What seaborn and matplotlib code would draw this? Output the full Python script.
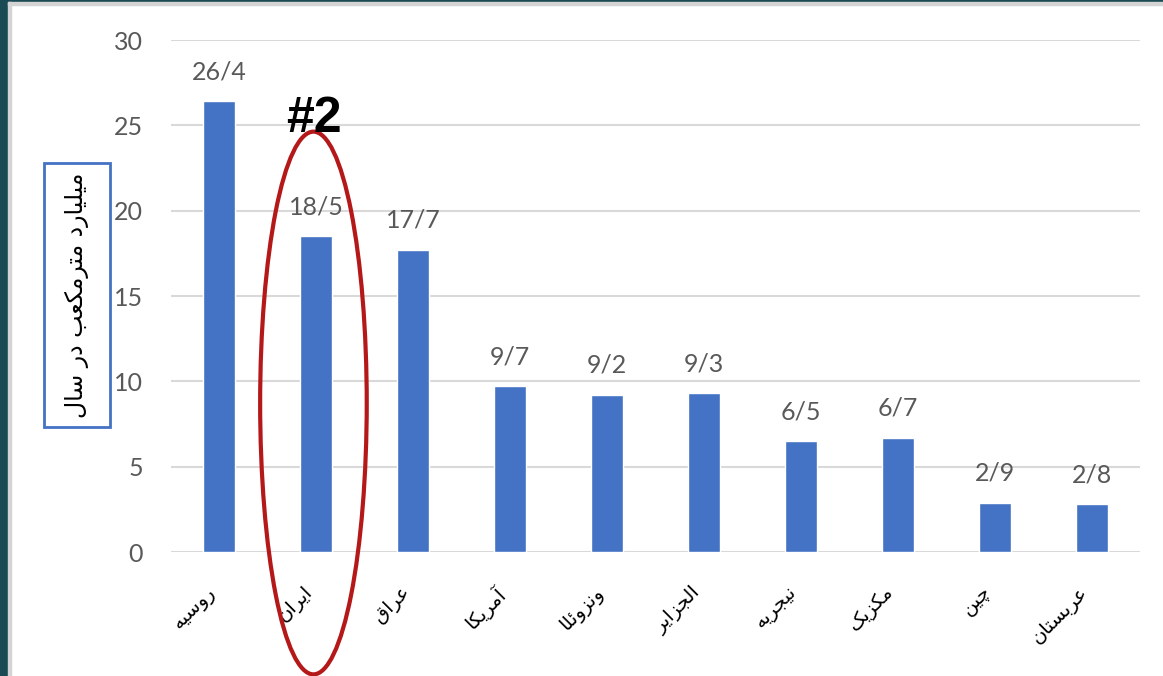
import numpy as np
import pandas as pd
import seaborn as sns
import matplotlib.pyplot as plt
from matplotlib.patches import Ellipse, Rectangle

countries = ['روسیه', 'ایران', 'عراق', 'آمریکا', 'ونزوئلا', 'الجزایر', 'نیجریه', 'مکزیک', 'چین', 'عربستان']
values = [26.4, 18.5, 17.7, 9.7, 9.2, 9.3, 6.5, 6.7, 2.9, 2.8]
value_labels = ['26/4', '18/5', '17/7', '9/7', '9/2', '9/3', '6/5', '6/7', '2/9', '2/8']
y_ticks = [0, 5, 10, 15, 20, 25, 30]
y_title = 'میلیارد مترمکعب در سال'
highlight = '#2'

# matplotlib has no arabic shaping, so map letters to presentation forms by hand
# (isolated, final, initial, medial); two entries = joins only to the right
FORMS = {
    'ا': (0xFE8D, 0xFE8E), 'آ': (0xFE81, 0xFE82), 'د': (0xFEA9, 0xFEAA),
    'ر': (0xFEAD, 0xFEAE), 'ز': (0xFEAF, 0xFEB0), 'و': (0xFEED, 0xFEEE),
    'ب': (0xFE8F, 0xFE90, 0xFE91, 0xFE92), 'ت': (0xFE95, 0xFE96, 0xFE97, 0xFE98),
    'ج': (0xFE9D, 0xFE9E, 0xFE9F, 0xFEA0), 'چ': (0xFB7A, 0xFB7B, 0xFB7C, 0xFB7D),
    'س': (0xFEB1, 0xFEB2, 0xFEB3, 0xFEB4), 'ع': (0xFEC9, 0xFECA, 0xFECB, 0xFECC),
    'ق': (0xFED5, 0xFED6, 0xFED7, 0xFED8), 'ک': (0xFB8E, 0xFB8F, 0xFB90, 0xFB91),
    'ل': (0xFEDD, 0xFEDE, 0xFEDF, 0xFEE0), 'م': (0xFEE1, 0xFEE2, 0xFEE3, 0xFEE4),
    'ن': (0xFEE5, 0xFEE6, 0xFEE7, 0xFEE8), 'ه': (0xFEE9, 0xFEEA, 0xFEEB, 0xFEEC),
    'ی': (0xFBFC, 0xFBFD, 0xFBFE, 0xFBFF), 'ئ': (0xFE89, 0xFE8A, 0xFE8B, 0xFE8C),
}


def shape(word):
    out = []
    chars = list(word)
    for i, c in enumerate(chars):
        f = FORMS.get(c)
        if f is None:
            out.append(c)
            continue
        prev = chars[i - 1] if i > 0 else None
        nxt = chars[i + 1] if i + 1 < len(chars) else None
        join_prev = prev in FORMS and len(FORMS[prev]) == 4
        join_next = len(f) == 4 and nxt in FORMS
        if join_prev and join_next:
            code = f[3]
        elif join_prev:
            code = f[1]
        elif join_next:
            code = f[2]
        else:
            code = f[0]
        out.append(chr(code))
    # reverse for right-to-left display
    return ''.join(out)[::-1]


df = pd.DataFrame({'country': [shape(c) for c in countries], 'value': values})

sns.set_theme(style='white')
plt.rcParams['font.family'] = ['Lato', 'DejaVu Sans']

fig = plt.figure(figsize=(11.63, 6.76), dpi=100)
fig.patch.set_facecolor('white')

# dark frame of the slide and the light edge of the chart box
fig.add_artist(Rectangle((0, 0), 8 / 1163, 1, transform=fig.transFigure, color='#1B4A55', zorder=0))
fig.add_artist(Rectangle((0, 1 - 2 / 676), 1, 2 / 676, transform=fig.transFigure, color='#1B4A55', zorder=0))
fig.add_artist(Rectangle((8 / 1163, 0), 3 / 1163, 1 - 2 / 676, transform=fig.transFigure, color='#D4D4D4', zorder=0))
fig.add_artist(Rectangle((8 / 1163, 1 - 5 / 676), 1, 3 / 676, transform=fig.transFigure, color='#D4D4D4', zorder=0))

ax = fig.add_axes([171 / 1163, 1 - 552 / 676, 969 / 1163, 512 / 676])
ax.set_facecolor('none')

sns.barplot(data=df, x='country', y='value', color='#4472C4', width=0.33,
            saturation=1, ax=ax, zorder=3)

ax.bar_label(ax.containers[0], labels=value_labels, padding=13,
             fontsize=18, color='#595959')

ax.set_ylim(0, 30)
ax.set_xlim(-0.5, 9.5)
ax.set_yticks(y_ticks)
ax.tick_params(axis='y', labelsize=18, labelcolor='#595959', length=0, pad=20)
ax.tick_params(axis='x', length=0, pad=22)
ax.set_xticks(range(len(countries)))
ax.set_xticklabels(df['country'], rotation=45, ha='right', va='top',
                   fontsize=14, color='black', family='DejaVu Sans')
ax.yaxis.grid(True, color='#D9D9D9', linewidth=1.5, zorder=0)
ax.set_axisbelow(True)
for s in ax.spines.values():
    s.set_visible(False)
ax.set_xlabel('')
ax.set_ylabel('')

# y title in a blue box
fig.add_artist(Rectangle((44 / 1163, 1 - 427 / 676), 66 / 1163, 264 / 676,
                         transform=fig.transFigure, fill=False,
                         edgecolor='#4472C4', linewidth=2))
fig.text(77 / 1163, 1 - 295 / 676, shape(y_title), rotation=90,
         ha='center', va='center', fontsize=17, color='black',
         family='DejaVu Sans')

# red ellipse around Iran and the rank mark
ax.add_patch(Ellipse((0.97, 8.73), width=1.1, height=31.8, fill=False,
                     edgecolor='#B41818', linewidth=3, clip_on=False, zorder=5))
ax.text(0.97, 25.4, highlight, ha='center', va='center', fontsize=36,
        fontweight='bold', color='black', family='Liberation Sans', zorder=6)

fig.savefig('out.png', dpi=100)
